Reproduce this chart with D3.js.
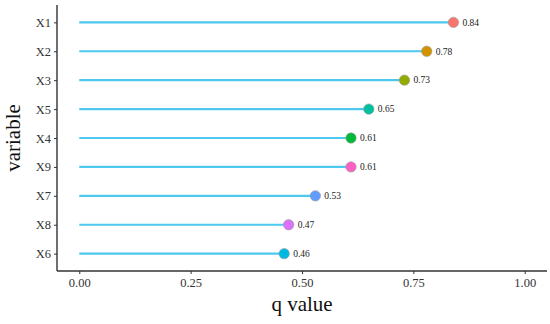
<!DOCTYPE html>
<html>
<head>
<meta charset="utf-8">
<script src="https://cdn.jsdelivr.net/npm/d3@7"></script>
<style>
  html, body { margin: 0; padding: 0; background: #ffffff; }
  svg { display: block; }
</style>
</head>
<body>
<div id="chart"></div>
<script>
// data, top to bottom as drawn
const variables = ['X1', 'X2', 'X3', 'X5', 'X4', 'X9', 'X7', 'X8', 'X6'];
const qValues = [0.84, 0.78, 0.73, 0.65, 0.61, 0.61, 0.53, 0.47, 0.46];
const pointColors = ['#F8766D', '#D39200', '#93AA00', '#00C19F', '#00BA38', '#FF61C3', '#619CFF', '#DB72FB', '#00B9E3'];
const xTicks = [0, 0.25, 0.5, 0.75, 1];

const width = 550;
const height = 324;
const margin = { top: 5, right: 3, bottom: 53, left: 57 };

const svg = d3.select('#chart').append('svg')
    .attr('width', width)
    .attr('height', height);

const xScale = d3.scaleLinear()
    .domain([-0.05, 1.05])
    .range([margin.left, width - margin.right]);
const yScale = d3.scalePoint()
    .domain(variables)
    .range([margin.top, height - margin.bottom])
    .padding(0.6);

const font = '"Liberation Serif", "Times New Roman", serif';

// axes
const xAxis = svg.append('g')
    .attr('transform', `translate(0, ${height - margin.bottom})`)
    .call(d3.axisBottom(xScale).tickValues(xTicks).tickFormat(d3.format('.2f')).tickSize(3).tickPadding(4));
const yAxis = svg.append('g')
    .attr('transform', `translate(${margin.left}, 0)`)
    .call(d3.axisLeft(yScale).tickSize(3).tickPadding(3));

[xAxis, yAxis].forEach(ax => {
    ax.select('.domain').attr('stroke', '#333333').attr('stroke-width', 1.4);
    ax.selectAll('.tick line').attr('stroke', '#333333').attr('stroke-width', 1);
    ax.selectAll('text').attr('fill', '#333333').style('font-family', font).style('font-size', '12.5px');
});
xAxis.select('.domain').attr('d', `M${margin.left},0H${width - margin.right}`);
yAxis.select('.domain').attr('d', `M0,${margin.top}V${height - margin.bottom}`);

const rows = variables.map((v, i) => ({ name: v, q: qValues[i], color: pointColors[i] }));

// stems
svg.selectAll('.stem')
    .data(rows)
    .enter()
    .append('line')
    .attr('class', 'stem')
    .attr('x1', xScale(0))
    .attr('x2', d => xScale(d.q))
    .attr('y1', d => yScale(d.name))
    .attr('y2', d => yScale(d.name))
    .attr('stroke', '#4CC9EC')
    .attr('stroke-width', 2.2);

// dots
svg.selectAll('.dot')
    .data(rows)
    .enter()
    .append('circle')
    .attr('class', 'dot')
    .attr('cx', d => xScale(d.q))
    .attr('cy', d => yScale(d.name))
    .attr('r', 5.2)
    .attr('fill', d => d.color)
    .attr('stroke', '#9a9a9a')
    .attr('stroke-width', 0.6);

// value labels
svg.selectAll('.val')
    .data(rows)
    .enter()
    .append('text')
    .attr('class', 'val')
    .attr('x', d => xScale(d.q) + 9)
    .attr('y', d => yScale(d.name))
    .attr('dy', '0.35em')
    .attr('fill', '#222222')
    .style('font-family', font)
    .style('font-size', '9.5px')
    .text(d => d3.format('.2f')(d.q));

// axis titles
svg.append('text')
    .attr('x', (margin.left + width - margin.right) / 2)
    .attr('y', 311)
    .attr('text-anchor', 'middle')
    .attr('fill', '#111111')
    .style('font-family', font)
    .style('font-size', '21px')
    .text('q value');

svg.append('text')
    .attr('transform', `translate(20, ${(margin.top + height - margin.bottom) / 2}) rotate(-90)`)
    .attr('text-anchor', 'middle')
    .attr('fill', '#111111')
    .style('font-family', font)
    .style('font-size', '21px')
    .text('variable');
</script>
</body>
</html>
